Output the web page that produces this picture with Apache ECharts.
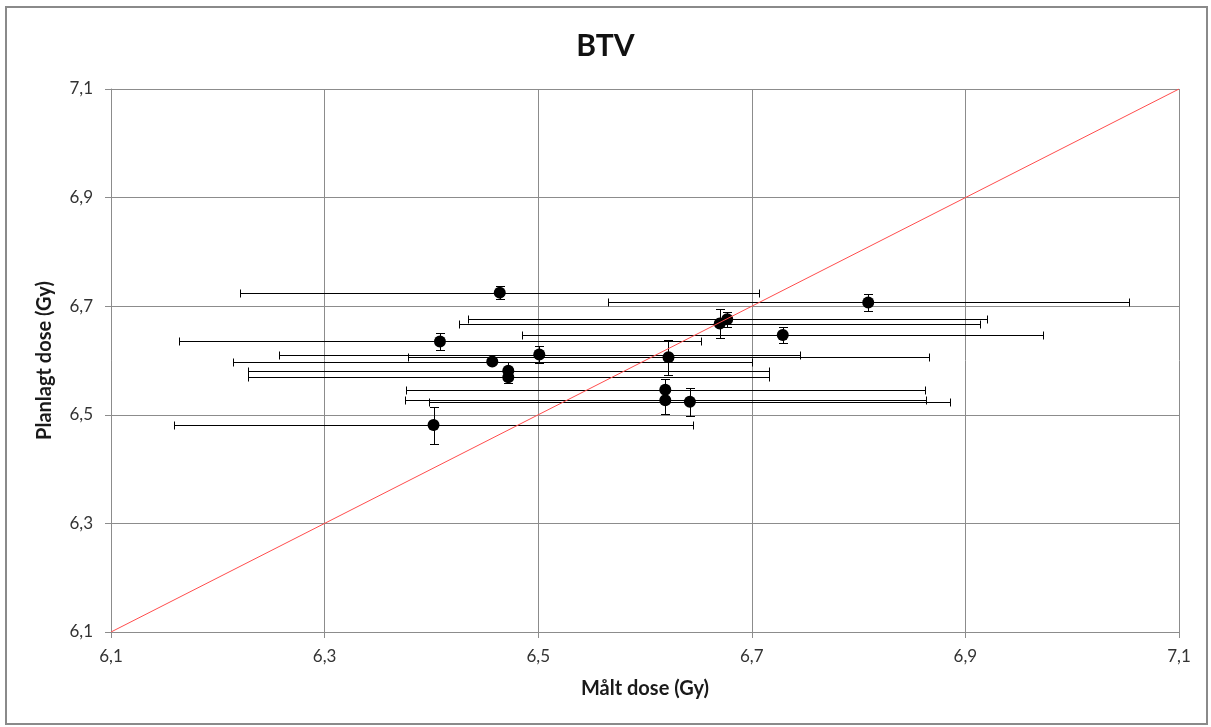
<!DOCTYPE html>
<html>
<head>
<meta charset="utf-8">
<title>BTV</title>
<script src="https://cdn.jsdelivr.net/npm/echarts@6/dist/echarts.min.js"></script>
<style>
  html, body { margin: 0; padding: 0; background: #fff; }
  #chart { width: 1211px; height: 727px; }
</style>
</head>
<body>
<div id="chart"></div>
<script>
// Measured dose (Gy) with its uncertainty, and the planned dose with its uncertainty
const measured    = [6.464, 6.809, 6.677, 6.670, 6.729, 6.408, 6.501, 6.622, 6.457, 6.472, 6.472, 6.619, 6.619, 6.642, 6.402];
const measuredErr = [0.243, 0.244, 0.243, 0.244, 0.244, 0.244, 0.244, 0.244, 0.243, 0.244, 0.244, 0.243, 0.244, 0.244, 0.243];
const planned     = [6.725, 6.707, 6.676, 6.668, 6.647, 6.635, 6.611, 6.606, 6.598, 6.581, 6.569, 6.546, 6.527, 6.524, 6.481];
const plannedErr  = [0.012, 0.015, 0.014, 0.026, 0.015, 0.016, 0.016, 0.032, 0.004, 0.016, 0.010, 0.020, 0.025, 0.026, 0.034];

// Identity line (planned = measured)
const identity = [[6.1, 6.1], [7.1, 7.1]];

const axisMin = 6.1, axisMax = 7.1, axisStep = 0.2;

const fontFamily = 'Lato, "Open Sans", "DejaVu Sans", sans-serif';
const fmt = v => v.toFixed(1).replace('.', ',');

const points = measured.map((m, i) => [m, planned[i]]);
const errRows = measured.map((m, i) => [m, planned[i], measuredErr[i], plannedErr[i]]);

const crisp = v => Math.round(v) + 0.5;

function renderErrorBar(params, api) {
  const x = api.value(0), y = api.value(1);
  const ex = api.value(2), ey = api.value(3);
  const l = api.coord([x - ex, y]);
  const r = api.coord([x + ex, y]);
  const t = api.coord([x, y + ey]);
  const b = api.coord([x, y - ey]);
  const hy = crisp(l[1]);
  const vx = crisp(t[0]);
  const hCap = 4, vCap = 4.5;
  const style = { stroke: '#000', lineWidth: 1, fill: null };
  const line = (x1, y1, x2, y2) => ({ type: 'line', shape: { x1, y1, x2, y2 }, style });
  return {
    type: 'group',
    children: [
      line(crisp(l[0]), hy, crisp(r[0]), hy),
      line(crisp(l[0]), hy - hCap, crisp(l[0]), hy + hCap),
      line(crisp(r[0]), hy - hCap, crisp(r[0]), hy + hCap),
      line(vx, crisp(t[1]), vx, crisp(b[1])),
      line(vx - vCap, crisp(t[1]), vx + vCap, crisp(t[1])),
      line(vx - vCap, crisp(b[1]), vx + vCap, crisp(b[1]))
    ]
  };
}

const gridColor = '#8c8c8c';

function valueAxis(name, nameGap, labelMargin) {
  return {
    type: 'value',
    min: axisMin,
    max: axisMax,
    interval: axisStep,
    name: name,
    nameLocation: 'middle',
    nameGap: nameGap,
    nameTextStyle: { fontFamily, fontSize: 20, fontWeight: 'bold', color: '#1a1a1a' },
    axisLine: { show: true, lineStyle: { color: gridColor, width: 1 } },
    axisTick: { show: true, inside: false, length: 6, lineStyle: { color: gridColor } },
    splitLine: { show: true, lineStyle: { color: gridColor, width: 1 } },
    axisLabel: { formatter: fmt, fontFamily, fontSize: 17, color: '#333', margin: labelMargin }
  };
}

const chart = echarts.init(document.getElementById('chart'), null, { renderer: 'canvas' });

chart.setOption({
  animation: false,
  backgroundColor: '#fff',
  title: {
    text: 'BTV',
    left: 'center',
    top: 26,
    textStyle: { fontFamily, fontSize: 30, fontWeight: 'bold', color: '#111' }
  },
  grid: { left: 111, right: 32, top: 89, bottom: 95, containLabel: false },
  xAxis: valueAxis('Målt dose (Gy)', 47, 16),
  yAxis: valueAxis('Planlagt dose (Gy)', 56, 18),
  graphic: [{
    type: 'rect',
    shape: { x: 6, y: 7, width: 1201, height: 717 },
    style: { fill: null, stroke: '#8a8a8a', lineWidth: 2 },
    silent: true,
    z: -1
  }],
  series: [
    {
      type: 'custom',
      name: 'usikkerhet',
      renderItem: renderErrorBar,
      data: errRows,
      encode: { x: 0, y: 1 },
      z: 2,
      silent: true
    },
    {
      type: 'scatter',
      name: 'dose',
      data: points,
      symbol: 'circle',
      symbolSize: 12,
      itemStyle: { color: '#000', opacity: 1 },
      z: 3,
      silent: true
    },
    {
      type: 'line',
      name: 'identitet',
      data: identity,
      showSymbol: false,
      lineStyle: { color: '#ff4d4d', width: 1 },
      z: 4,
      silent: true
    }
  ]
});
</script>
</body>
</html>
